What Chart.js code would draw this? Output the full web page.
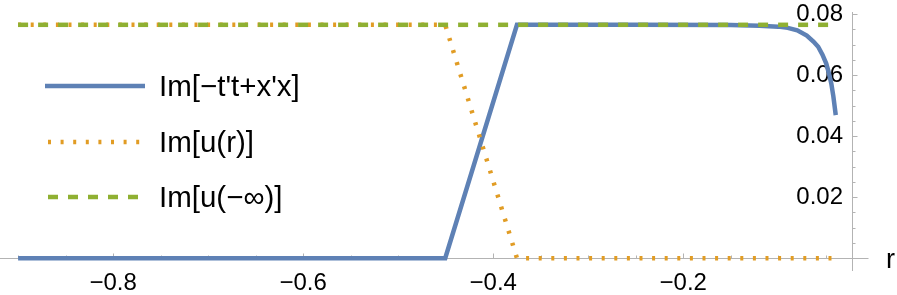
<!DOCTYPE html>
<html>
<head>
<meta charset="utf-8">
<script src="https://cdn.jsdelivr.net/npm/chart.js@4.4.1/dist/chart.umd.min.js"></script>
<style>
  body { margin: 0; background: #fff; }
  canvas { display: block; }
</style>
</head>
<body>
<canvas id="plot" width="897" height="295"></canvas>
<script>
// === Data ===
const blueR = [-0.9, -0.4505, -0.375, -0.25, -0.15, -0.12, -0.1, -0.09, -0.08, -0.07, -0.063, -0.058, -0.0535, -0.0495, -0.047, -0.0442, -0.042, -0.0395];
const blueV = [0, 0, 0.0765, 0.0765, 0.0764, 0.0762, 0.0759, 0.0755, 0.0747, 0.0730, 0.0710, 0.0693, 0.0667, 0.0638, 0.0610, 0.0573, 0.0530, 0.0469];

const orangeR = [-0.9, -0.4505, -0.375, -0.0395];
const orangeV = [0.0765, 0.0765, 0, 0];

const greenR = [-0.9, -0.0395];
const greenV = [0.0765, 0.0765];

const seriesNames = ["Im[\u2212t't+x'x]", 'Im[u(r)]', 'Im[u(\u2212\u221e)]'];

const xTickValues = [-0.8, -0.6, -0.4, -0.2];
const xTickLabels = ['\u22120.8', '\u22120.6', '\u22120.4', '\u22120.2'];
const xMinorTicks = [-0.9, -0.85, -0.8, -0.75, -0.7, -0.65, -0.6, -0.55, -0.5, -0.45, -0.4, -0.35, -0.3, -0.25, -0.2, -0.15, -0.1, -0.05];

const yTickValues = [0.02, 0.04, 0.06, 0.08];
const yTickLabels = ['0.02', '0.04', '0.06', '0.08'];
const yMinorTicks = [0.005, 0.01, 0.015, 0.02, 0.025, 0.03, 0.035, 0.04, 0.045, 0.05, 0.055, 0.06, 0.065, 0.07, 0.075, 0.08];

const toPoints = (rs, vs) => rs.map((r, i) => ({ x: r, y: vs[i] }));

const axisColor = '#b3b3b3';
const font = '"Liberation Sans", Arial, sans-serif';

// axis lines + tick marks, mathematica style (ticks point inward)
const axesPlugin = {
  id: 'mmaAxes',
  beforeDatasetsDraw(chart) {
    const { ctx, chartArea, scales: { x, y } } = chart;
    const y0 = Math.round(y.getPixelForValue(0)) + 0.5;
    const xa = Math.round(chartArea.right) + 0.5;
    const isMajor = (list, v) => list.some(m => Math.abs(m - v) < 1e-9);
    ctx.save();
    ctx.strokeStyle = axisColor;
    ctx.lineWidth = 1;
    ctx.beginPath();
    ctx.moveTo(0, y0);
    ctx.lineTo(xa + 16, y0);
    ctx.moveTo(xa, chartArea.top);
    ctx.lineTo(xa, chartArea.bottom);
    xMinorTicks.forEach(v => {
      const px = Math.round(x.getPixelForValue(v)) + 0.5;
      const len = isMajor(xTickValues, v) ? 5 : 3;
      ctx.moveTo(px, y0);
      ctx.lineTo(px, y0 - len);
    });
    yMinorTicks.forEach(v => {
      const py = Math.round(y.getPixelForValue(v)) + 0.5;
      const len = isMajor(yTickValues, v) ? 5 : 3;
      ctx.moveTo(xa, py);
      ctx.lineTo(xa + len, py);
    });
    ctx.stroke();
    ctx.restore();
  },
  afterDraw(chart) {
    const { ctx } = chart;
    ctx.save();
    // axis label
    ctx.fillStyle = '#000';
    ctx.font = '27px ' + font;
    ctx.textBaseline = 'alphabetic';
    ctx.fillText('r', 886, 268);

    // legend inside the plot
    const rowsY = [86, 142, 197];
    const baseY = [96, 152, 207];
    chart.data.datasets.forEach((ds, i) => {
      ctx.strokeStyle = ds.borderColor;
      ctx.lineWidth = ds.borderWidth;
      ctx.setLineDash(ds.borderDash || []);
      ctx.lineCap = 'butt';
      ctx.beginPath();
      ctx.moveTo(ds.borderDash ? 48 : 45, rowsY[i]);
      ctx.lineTo(145, rowsY[i]);
      ctx.stroke();
      ctx.setLineDash([]);
      ctx.fillStyle = '#000';
      ctx.font = '29.5px ' + font;
      ctx.fillText(seriesNames[i], 159, baseY[i]);
    });
    ctx.restore();
  }
};

const ctx = document.getElementById('plot').getContext('2d');
new Chart(ctx, {
  type: 'line',
  data: {
    datasets: [
      {
        label: seriesNames[0],
        data: toPoints(blueR, blueV),
        borderColor: '#5E81B5',
        borderWidth: 4.5,
        order: 3
      },
      {
        label: seriesNames[1],
        data: toPoints(orangeR, orangeV),
        borderColor: '#E19C24',
        borderWidth: 4.5,
        borderDash: [3, 9.6],
        order: 2
      },
      {
        label: seriesNames[2],
        data: toPoints(greenR, greenV),
        borderColor: '#8FB032',
        borderWidth: 4.5,
        borderDash: [10, 10],
        order: 1
      }
    ]
  },
  options: {
    responsive: false,
    animation: false,
    events: [],
    layout: { padding: { left: 1, right: 45, top: 12, bottom: 24 } },
    elements: {
      point: { radius: 0 },
      line: { tension: 0, borderCapStyle: 'butt', fill: false }
    },
    plugins: {
      legend: { display: false },
      tooltip: { enabled: false }
    },
    scales: {
      x: {
        type: 'linear',
        min: -0.918,
        max: -0.0224,
        position: { y: 0 },
        grid: { display: false, drawTicks: false },
        border: { display: false },
        afterBuildTicks: scale => { scale.ticks = xTickValues.map(v => ({ value: v })); },
        ticks: {
          autoSkip: false,
          maxRotation: 0,
          padding: 11,
          color: '#000',
          font: { family: font, size: 24 },
          callback: (v, i) => xTickLabels[i]
        }
      },
      y: {
        type: 'linear',
        position: 'right',
        min: -0.0042,
        max: 0.0807,
        grid: { display: false, drawTicks: false },
        border: { display: false },
        afterBuildTicks: scale => { scale.ticks = yTickValues.map(v => ({ value: v })); },
        ticks: {
          mirror: true,
          padding: -9,
          color: '#000',
          font: { family: font, size: 24 },
          callback: (v, i) => yTickLabels[i]
        }
      }
    }
  },
  plugins: [axesPlugin]
});
</script>
</body>
</html>
